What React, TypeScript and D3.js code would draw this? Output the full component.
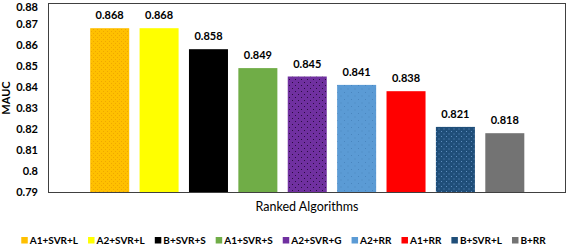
import React, { useEffect, useRef } from "react";
import * as d3 from "d3";

const categories = ["A1+SVR+L", "A2+SVR+L", "B+SVR+S", "A1+SVR+S", "A2+SVR+G", "A2+RR", "A1+RR", "B+SVR+L", "B+RR"];
const values = [0.868, 0.868, 0.858, 0.849, 0.845, 0.841, 0.838, 0.821, 0.818];
const colors = ["#FFC000", "#FFFF00", "#000000", "#70AD47", "#7030A0", "#5B9BD5", "#FF0000", "#1F4E79", "#737373"];
const patterns: (null | { dot: string; size: number })[] = [
  { dot: "#F0A800", size: 4 },
  null,
  null,
  null,
  { dot: "#2a0c40", size: 6 },
  { dot: "#4a86bf", size: 7 },
  null,
  { dot: "#5f8fc0", size: 5 },
  null,
];
const yTicks = [0.79, 0.8, 0.81, 0.82, 0.83, 0.84, 0.85, 0.86, 0.87, 0.88];
const yLabel = "MAUC";
const xLabel = "Ranked Algorithms";

const W = 567;
const H = 245;
const FONT = "Lato, 'Open Sans', sans-serif";

export default function App() {
  const ref = useRef<SVGSVGElement>(null);

  useEffect(() => {
    const svg = d3.select(ref.current);
    svg.selectAll("*").remove();

    const plot = { left: 48, right: 566, top: 3, bottom: 192 };
    const y = d3.scaleLinear().domain([0.79, 0.88]).range([plot.bottom, plot.top]);
    const x = d3.scaleBand<string>().domain(categories).range([85, 529.5]).paddingInner(0.21).paddingOuter(0.105);

    const defs = svg.append("defs");
    patterns.forEach((p, i) => {
      if (!p) return;
      const pat = defs
        .append("pattern")
        .attr("id", `pat${i}`)
        .attr("patternUnits", "userSpaceOnUse")
        .attr("width", p.size)
        .attr("height", p.size);
      pat.append("rect").attr("width", p.size).attr("height", p.size).attr("fill", colors[i]);
      pat.append("rect").attr("x", 1).attr("y", 1).attr("width", 1).attr("height", 1).attr("fill", p.dot);
      pat
        .append("rect")
        .attr("x", 1 + p.size / 2)
        .attr("y", 1 + p.size / 2)
        .attr("width", 1)
        .attr("height", 1)
        .attr("fill", p.dot);
    });

    // frame
    svg
      .append("rect")
      .attr("x", plot.left + 0.5)
      .attr("y", plot.top + 0.5)
      .attr("width", plot.right - plot.left - 1)
      .attr("height", plot.bottom - plot.top)
      .attr("fill", "none")
      .attr("stroke", "#404040")
      .attr("stroke-width", 1);

    // bars
    svg
      .append("g")
      .selectAll("rect")
      .data(categories)
      .join("rect")
      .attr("x", (d) => x(d)!)
      .attr("y", (_d, i) => y(values[i]))
      .attr("width", x.bandwidth())
      .attr("height", (_d, i) => plot.bottom - y(values[i]))
      .attr("fill", (_d, i) => (patterns[i] ? `url(#pat${i})` : colors[i]));

    // bottom axis line
    svg
      .append("line")
      .attr("x1", plot.left)
      .attr("x2", plot.right)
      .attr("y1", plot.bottom + 0.5)
      .attr("y2", plot.bottom + 0.5)
      .attr("stroke", "#404040")
      .attr("stroke-width", 1.2);

    // value labels
    svg
      .append("g")
      .selectAll("text")
      .data(categories)
      .join("text")
      .attr("x", (d) => x(d)! + x.bandwidth() / 2)
      .attr("y", (_d, i) => y(values[i]) - 9)
      .attr("text-anchor", "middle")
      .attr("font-family", FONT)
      .attr("font-weight", "bold")
      .attr("font-size", 11)
      .attr("fill", "#000")
      .text((_d, i) => values[i].toFixed(3));

    // y tick labels
    svg
      .append("g")
      .selectAll("text")
      .data(yTicks)
      .join("text")
      .attr("x", 38)
      .attr("y", (d) => Math.max(y(d), 7))
      .attr("dy", "0.35em")
      .attr("text-anchor", "end")
      .attr("font-family", FONT)
      .attr("font-weight", "bold")
      .attr("font-size", 11)
      .attr("fill", "#000")
      .text((d) => d3.format("")(+d.toFixed(2)));

    // y label
    svg
      .append("text")
      .attr("transform", `translate(10,98) rotate(-90)`)
      .attr("text-anchor", "middle")
      .attr("font-family", FONT)
      .attr("font-weight", "bold")
      .attr("font-size", 11)
      .attr("fill", "#000")
      .text(yLabel);

    // x label
    svg
      .append("text")
      .attr("x", (plot.left + plot.right) / 2)
      .attr("y", 211)
      .attr("text-anchor", "middle")
      .attr("font-family", FONT)
      .attr("font-size", 12.5)
      .attr("fill", "#000")
      .text(xLabel);

    // legend
    const lg = svg.append("g");
    const items = categories.map((c, i) => {
      const g = lg.append("g");
      g.append("rect")
        .attr("x", 0)
        .attr("y", -6.5)
        .attr("width", 6.5)
        .attr("height", 6.5)
        .attr("fill", colors[i]);
      const t = g
        .append("text")
        .attr("x", 8.5)
        .attr("y", 0)
        .attr("font-family", FONT)
        .attr("font-weight", "bold")
        .attr("font-size", 10)
        .attr("fill", "#000")
        .text(c);
      const w = 8.5 + (t.node() as SVGTextElement).getComputedTextLength();
      return { g, w };
    });
    const gap = 10;
    const total = d3.sum(items, (d) => d.w) + gap * (items.length - 1);
    let cx = (W - total) / 2;
    items.forEach((it) => {
      it.g.attr("transform", `translate(${cx},243.5)`);
      cx += it.w + gap;
    });
  }, []);

  return (
    <svg ref={ref} width={W} height={H} style={{ display: "block", position: "absolute", left: 0, top: 0, background: "#fff" }} />
  );
}
